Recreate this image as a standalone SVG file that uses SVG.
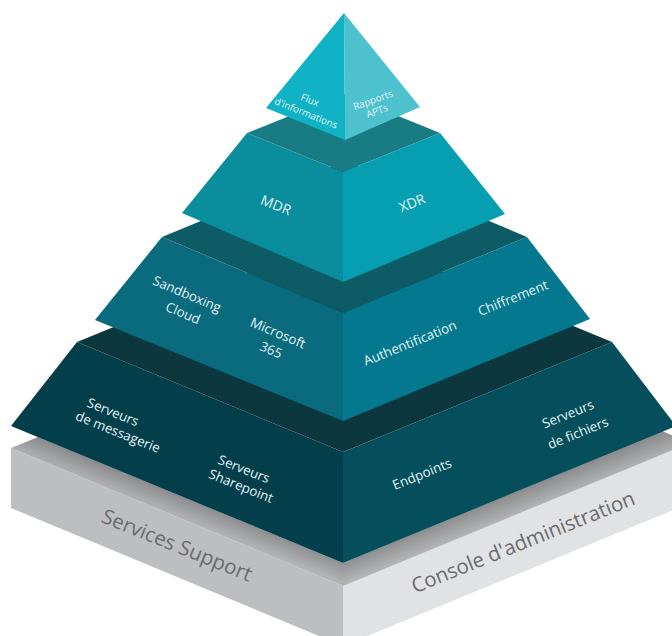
<svg xmlns="http://www.w3.org/2000/svg" width="672" height="636" viewBox="0 0 672 636">
<defs>
<style>
.t{font-family:"Open Sans","Noto Sans","Liberation Sans",sans-serif;fill:#e2f2f4;text-anchor:middle}
.g{font-family:"Open Sans","Noto Sans","Liberation Sans",sans-serif;fill:#6a6b6d;text-anchor:middle;font-size:20.5px}
.s9{font-size:9.8px}.s13{font-size:13.3px}.s14{font-size:14px}
</style>
<linearGradient id="shL" gradientUnits="userSpaceOnUse" x1="177" y1="494" x2="169" y2="514"><stop offset="0" stop-color="#8a8c8e"/><stop offset="1" stop-color="#b2b3b5"/></linearGradient>
<linearGradient id="shR" gradientUnits="userSpaceOnUse" x1="510" y1="494" x2="518" y2="514"><stop offset="0" stop-color="#8a8c8e"/><stop offset="1" stop-color="#b2b3b5"/></linearGradient>
</defs>
<rect width="672" height="636" fill="#ffffff"/>
<g id="base">
<polygon points="11,448 343,586 343,646 11,508" fill="#bdbec0"/>
<polygon points="343,586 690,443 690,503 343,646" fill="#e1e2e4"/>
<polygon points="11,448 38,437 343,563 343,586" fill="url(#shL)"/>
<polygon points="343,563 662,431 690,443 343,586" fill="url(#shR)"/>
<text class="g" transform="translate(177,545) rotate(22)" dy="0.35em">Services Support</text>
<text class="g" transform="translate(523,542) rotate(-22)" dy="0.35em">Console d'administration</text>
</g>
<g id="tier4">
<polygon points="77,342 346,232 612,342 343,452" fill="#0c373e"/>
<polygon points="77,342 343,452 343,563 11,426" fill="#033e4b"/>
<polygon points="343,452 612,342 676,426 343,563" fill="#054e5c"/>
<text class="t s13" transform="translate(113,412) rotate(22)" dy="0.35em">Serveurs</text>
<text class="t s13" transform="translate(118,432) rotate(22)" dy="0.35em">de messagerie</text>
<text class="t s13" transform="translate(244,469) rotate(22)" dy="0.35em">Serveurs</text>
<text class="t s13" transform="translate(241,486) rotate(22)" dy="0.35em">Sharepoint</text>
<text class="t s13" transform="translate(422,474) rotate(-22)" dy="0.35em">Endpoints</text>
<text class="t s13" transform="translate(568,414) rotate(-22)" dy="0.35em">Serveurs</text>
<text class="t s13" transform="translate(578,433) rotate(-22)" dy="0.35em">de fichiers</text>
</g>
<g id="tier3">
<polygon points="162,237 346,161 527,237 343,313" fill="#0d5b65"/>
<polygon points="162,237 343,313 343,421 95,320" fill="#0a6a7e"/>
<polygon points="343,313 527,237 590,319 343,421" fill="#03788e"/>
<text class="t s13" transform="translate(187,294) rotate(23)" dy="0.35em">Sandboxing</text>
<text class="t s13" transform="translate(183,313) rotate(23)" dy="0.35em">Cloud</text>
<text class="t s13" transform="translate(278,333) rotate(23)" dy="0.35em">Microsoft</text>
<text class="t s13" transform="translate(271,350) rotate(23)" dy="0.35em">365</text>
<text class="t s13" transform="translate(410,343) rotate(-22)" dy="0.35em">Authentification</text>
<text class="t s13" transform="translate(513,298) rotate(-22)" dy="0.35em">Chiffrement</text>
</g>
<g id="tier2">
<polygon points="247,133 344,94 440,133 343,172" fill="#197c84"/>
<polygon points="247,133 343,172 343,282 182,213" fill="#0a8d9d"/>
<polygon points="343,172 440,133 505,214 343,282" fill="#069fb1"/>
<text class="t s14" transform="translate(276,205) rotate(22)" dy="0.35em">MDR</text>
<text class="t s14" transform="translate(412,203) rotate(-22)" dy="0.35em">XDR</text>
</g>
<g id="apex">
<polygon points="344,13 266,108 345,140" fill="#10b2c5"/>
<polygon points="344,13 345,140 420,107" fill="#4ec1cf"/>
<text class="t s9" transform="translate(310,100) rotate(22)" dy="0.35em">Flux</text>
<text class="t s9" transform="translate(306,113) rotate(22)" dy="0.35em">d'informations</text>
<text class="t s9" transform="translate(373,100) rotate(-20)" dy="0.35em">Rapports</text>
<text class="t s9" transform="translate(377,111) rotate(-20)" dy="0.35em">APTs</text>
</g>
</svg>
